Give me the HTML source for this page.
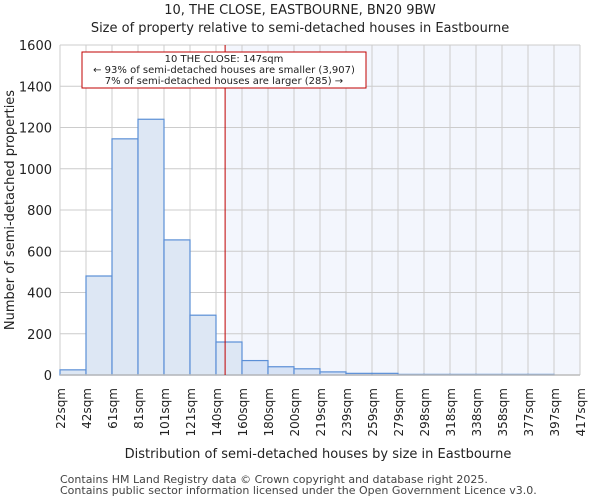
<!DOCTYPE html>
<html><head><meta charset="utf-8"><style>
body{margin:0;background:#fff}
svg{display:block;font-family:"DejaVu Sans","Liberation Sans",sans-serif}
</style></head><body>
<svg id="chart" width="600" height="500" viewBox="0 0 600 500">
<text x="300" y="14" text-anchor="middle" font-size="13" fill="#222">10, THE CLOSE, EASTBOURNE, BN20 9BW</text>
<text x="300" y="32" text-anchor="middle" font-size="13" fill="#222">Size of property relative to semi-detached houses in Eastbourne</text>
<g id="plot"></g>
<text x="318" y="458" text-anchor="middle" font-size="13" fill="#222">Distribution of semi-detached houses by size in Eastbourne</text>
<text transform="translate(14,210) rotate(-90)" text-anchor="middle" font-size="13" fill="#222">Number of semi-detached properties</text>
<text x="60" y="483" font-size="11" fill="#444">Contains HM Land Registry data © Crown copyright and database right 2025.</text>
<text x="60" y="494" font-size="11" fill="#444">Contains public sector information licensed under the Open Government Licence v3.0.</text>
</svg>
<script>
const binEdges=[22,42,61,81,101,121,140,160,180,200,219,239,259,279,298,318,338,358,377,397,417];
const counts=[25,480,1145,1240,655,290,160,70,40,30,15,8,8,3,3,3,3,3,3,0];
const yTicks=[0,200,400,600,800,1000,1200,1400,1600];
const subjectSize=147;
const X0=60,X1=580,Y0=375,Y1=45,NS="http://www.w3.org/2000/svg";
const nb=counts.length;
function xIdx(i){return X0+(X1-X0)*i/nb;}
function xVal(v){let i=0;while(i<nb-1&&v>binEdges[i+1])i++;return xIdx(i)+(v-binEdges[i])/(binEdges[i+1]-binEdges[i])*(X1-X0)/nb;}
function y(v){return Y0-(v/1600)*(Y0-Y1);}
const g=document.getElementById('plot');
function mk(t,a){const e=document.createElementNS(NS,t);for(const k in a)e.setAttribute(k,a[k]);g.appendChild(e);return e;}
const sx=xVal(subjectSize);
let e=mk('rect',{x:X0,y:Y1,width:X1-X0,height:Y0-Y1,fill:'#fff'});


e=mk('rect',{x:sx,y:Y1,width:X1-sx,height:Y0-Y1,fill:'#f3f6fd'});


yTicks.forEach(t=>{
 e=mk('line',{x1:X0,x2:X1,y1:y(t),y2:y(t),stroke:'#cccccc','stroke-width':1});
 
 
 e=mk('text',{x:X0-8,y:y(t)+5,'text-anchor':'end','font-size':13,fill:'#222'});e.textContent=t;
 
 
});
binEdges.forEach((b,i)=>{
 const xx=xIdx(i);
 e=mk('line',{x1:xx,x2:xx,y1:Y1,y2:Y0,stroke:'#cccccc','stroke-width':1});
 
 
 e=mk('text',{transform:`translate(${xx+5},388) rotate(-90)`,'text-anchor':'end','font-size':12,fill:'#222'});e.textContent=b+'sqm';
 
 
});
counts.forEach((c,i)=>{
 if(c<=0)return;
 const x=xIdx(i),w=xIdx(i+1)-x;
 e=mk('rect',{x:x,y:y(c),width:w,height:Y0-y(c),fill:xIdx(i)>=sx-1?'#d6e2f5':'#dde7f4',stroke:'#5b8fd6','stroke-width':1.2});
 
 
});
e=mk('line',{x1:X0,x2:X1,y1:Y0,y2:Y0,stroke:'#bbbbbb','stroke-width':1.5});


e=mk('line',{x1:sx,x2:sx,y1:Y1,y2:Y0,stroke:'#c00000','stroke-width':1});


e=mk('rect',{x:82,y:52,width:284,height:36,fill:'#fff',stroke:'#c00000','stroke-width':1});


[['10 THE CLOSE: 147sqm',62],['← 93% of semi-detached houses are smaller (3,907)',73],['7% of semi-detached houses are larger (285) →',84]].forEach(([t,yy])=>{
 e=mk('text',{x:224,y:yy,'text-anchor':'middle','font-size':10,fill:'#222'});e.textContent=t;
 
 
});
</script>
</body></html>
